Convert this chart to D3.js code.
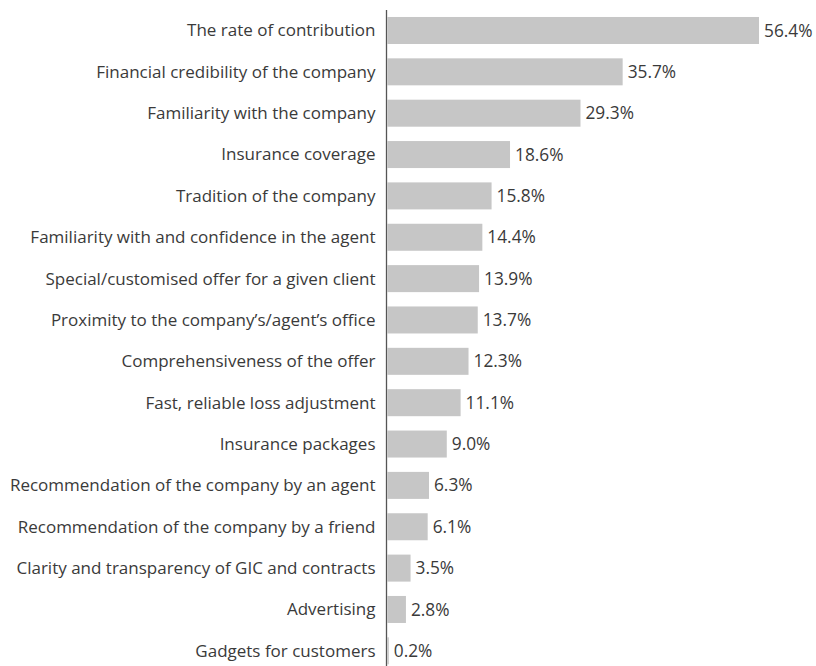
<!DOCTYPE html>
<html>
<head>
<meta charset="utf-8">
<script src="https://cdn.jsdelivr.net/npm/d3@7"></script>
<style>
  body { margin: 0; background: #fff; }
  text { font-family: "Open Sans", sans-serif; fill: #3a3a3a; }
</style>
</head>
<body>
<svg id="chart" width="816" height="666"></svg>
<script>
// factors and their share (%)
var factors = [
    "The rate of contribution",
    "Financial credibility of the company",
    "Familiarity with the company",
    "Insurance coverage",
    "Tradition of the company",
    "Familiarity with and confidence in the agent",
    "Special/customised offer for a given client",
    "Proximity to the company\u2019s/agent\u2019s office",
    "Comprehensiveness of the offer",
    "Fast, reliable loss adjustment",
    "Insurance packages",
    "Recommendation of the company by an agent",
    "Recommendation of the company by a friend",
    "Clarity and transparency of GIC and contracts",
    "Advertising",
    "Gadgets for customers"
];
var shares = [56.4, 35.7, 29.3, 18.6, 15.8, 14.4, 13.9, 13.7, 12.3, 11.1, 9.0, 6.3, 6.1, 3.5, 2.8, 0.2];

var svg = d3.select("#chart");
var x0 = 387.5;

var xScale = d3.scaleLinear().domain([0, 56.4]).range([x0, 759]);
var yScale = d3.scaleBand()
    .domain(factors)
    .range([9.8, 671.5])
    .paddingInner(0.347)
    .paddingOuter(0.1735);

var data = factors.map(function (f, i) { return {name: f, val: shares[i]}; });

// bars
svg.selectAll("rect.bar")
    .data(data)
    .enter()
    .append("rect")
    .attr("class", "bar")
    .attr("x", xScale(0))
    .attr("y", d => yScale(d.name))
    .attr("width", d => xScale(d.val) - xScale(0))
    .attr("height", yScale.bandwidth())
    .attr("fill", "#c6c6c6");

// value labels
svg.selectAll("text.val")
    .data(data)
    .enter()
    .append("text")
    .attr("class", "val")
    .attr("x", d => xScale(d.val) + 5)
    .attr("y", d => yScale(d.name) + yScale.bandwidth() / 2)
    .attr("dy", "0.35em")
    .style("font-size", "17.3px")
    .text(d => d.val.toFixed(1) + "%");

// category labels
svg.selectAll("text.cat")
    .data(data)
    .enter()
    .append("text")
    .attr("class", "cat")
    .attr("x", x0 - 12)
    .attr("y", d => yScale(d.name) + yScale.bandwidth() / 2)
    .attr("dy", "0.35em")
    .attr("text-anchor", "end")
    .style("font-size", "17px")
    .text(d => d.name);

// vertical axis line
svg.append("line")
    .attr("x1", x0 - 1).attr("x2", x0 - 1)
    .attr("y1", 10).attr("y2", 666)
    .attr("stroke", "#555")
    .attr("stroke-width", 1.3);
</script>
</body>
</html>
